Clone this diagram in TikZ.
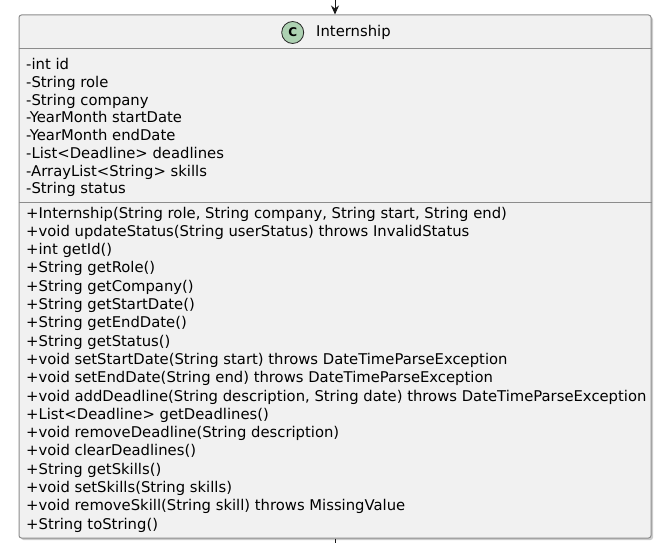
\documentclass[tikz,border=0pt]{standalone}
\usepackage{fontspec}
\setmainfont{DejaVu Sans}
\newfontfamily\attrfont{DejaVu Sans}
\usetikzlibrary{arrows.meta}
\definecolor{boxfill}{HTML}{F1F1F1}
\definecolor{boxline}{HTML}{8C8C8C}
\definecolor{spotfill}{HTML}{ADD1B2}
\definecolor{txt}{HTML}{000000}
\begin{document}
\begin{tikzpicture}[x=1pt,y=-1pt,
  classbox/.style={draw=boxline, fill=boxfill, line width=1pt, rounded corners=2.5pt, minimum width=632pt, minimum height=523pt, inner sep=0pt},
  sepline/.style={draw=boxline, line width=1pt},
  attr/.style={anchor=base west, inner sep=0pt, text=txt, font=\attrfont\fontsize{14.8}{17}\selectfont},
  meth/.style={anchor=base west, inner sep=0pt, text=txt, font=\attrfont\fontsize{14.8}{17}\selectfont},
  title/.style={anchor=west, inner sep=0pt, text=txt, font=\attrfont\fontsize{14.8}{17}\selectfont},
  spot/.style={circle, draw=black!85, fill=spotfill, line width=0.8pt, minimum size=22pt, inner sep=0pt, font=\attrfont\bfseries\fontsize{12}{14}\selectfont},
  link/.style={draw=black!90, line width=1pt},
  arr/.style={-{Stealth[length=9pt,width=8pt,inset=3pt]}}
]
\useasboundingbox (0,0) rectangle (660,543);
% shadow
\fill[black!20, rounded corners=2.5pt] (21,17) rectangle (653,540);
\node[classbox] (cls) at (335,276.5) {};
\draw[sepline] (cls.west |- 0,49) -- (cls.east |- 0,49);
\draw[sepline] (cls.west |- 0,202) -- (cls.east |- 0,202);
\node[spot] (c) at (292.7,32.5) {C};
\node[title] (name) at (316,32.5) {Internship};
\coordinate (top) at (335,0);
\coordinate (bot) at (335,543);
\draw[link,arr] (top) -- (cls.north);
\draw[link] (cls.south) -- (bot);
\foreach \t [count=\i] in {-int id,-String role,-String company,-YearMonth startDate,-YearMonth endDate,-List<Deadline> deadlines,-ArrayList<String> skills,-String status}{
  \node[attr] (a\i) at (26,{69.5+(\i-1)*17.75}) {\t};
}
\foreach \t [count=\i] in {{+Internship(String role, String company, String start, String end)},
{+void updateStatus(String userStatus) throws InvalidStatus},
{+int getId()},
{+String getRole()},
{+String getCompany()},
{+String getStartDate()},
{+String getEndDate()},
{+String getStatus()},
{+void setStartDate(String start) throws DateTimeParseException},
{+void setEndDate(String end) throws DateTimeParseException},
{+void addDeadline(String description, String date) throws DateTimeParseException},
{+List<Deadline> getDeadlines()},
{+void removeDeadline(String description)},
{+void clearDeadlines()},
{+String getSkills()},
{+void setSkills(String skills)},
{+void removeSkill(String skill) throws MissingValue},
{+String toString()}}{
  \node[meth] (m\i) at (26,{218+(\i-1)*18.3}) {\t};
}
\end{tikzpicture}
\end{document}
